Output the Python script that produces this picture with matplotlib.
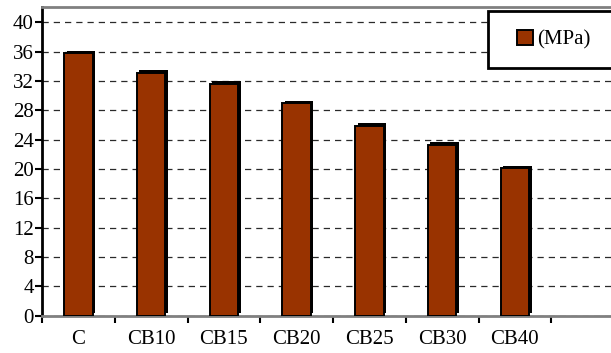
import matplotlib
matplotlib.use("Agg")
import matplotlib.pyplot as plt
import numpy as np
from matplotlib.transforms import offset_copy
from matplotlib.patches import Rectangle

categories = ["C", "CB10", "CB15", "CB20", "CB25", "CB30", "CB40"]
strength = [35.8, 33.1, 31.6, 29.0, 25.9, 23.3, 20.1]
yticks = [0, 4, 8, 12, 16, 20, 24, 28, 32, 36, 40]
series_name = "(MPa)"

plt.rcParams["font.family"] = ["Liberation Serif", "DejaVu Serif"]
FS = 15

W, H = 611, 353
fig = plt.figure(figsize=(W / 100, H / 100), dpi=100)
left, right, top, bottom = 42, 624, 7, 315.7
ax = fig.add_axes([left / W, 1 - bottom / H, (right - left) / W, (bottom - top) / H])

x = np.arange(len(categories))
bar_color = "#993300"
width = 0.39

# shadow bars behind, offset to the upper-right
shadow_tr = offset_copy(ax.transData, fig=fig, x=2.5, y=2.5, units="dots")
ax.bar(x, strength, width=width, color="black", transform=shadow_tr, zorder=3)
ax.bar(x, strength, width=width, color=bar_color, edgecolor="black",
       linewidth=1.4, zorder=4, label=series_name)

ax.set_xlim(-0.5, 7.5)
ax.set_ylim(0, 42.1)
ax.set_yticks(yticks)
ax.set_yticklabels([str(v) for v in yticks], fontsize=FS)
ax.yaxis.grid(True, linestyle=(0, (5, 4)), color="#2a2a2a", linewidth=0.9)
ax.set_axisbelow(True)

ax.set_xticks(np.arange(-0.5, 8.0, 1.0))
ax.set_xticklabels([])
ax.set_xticks(x, minor=True)
ax.set_xticklabels(categories, minor=True, fontsize=FS)
ax.tick_params(axis="x", which="major", length=5, width=1.5, direction="out", color="black")
ax.tick_params(axis="x", which="minor", length=0, pad=10)
ax.tick_params(axis="y", length=5, width=1.5, direction="out", color="black", pad=1)

ax.spines["left"].set_color("black")
ax.spines["left"].set_linewidth(2.0)
for s in ("top", "bottom", "right"):
    ax.spines[s].set_color("#808080")
    ax.spines[s].set_linewidth(2.0)

# legend box
box = Rectangle((488 / W, 1 - 68 / H), (625 - 488) / W, (68 - 11) / H,
                transform=fig.transFigure, facecolor="white", edgecolor="black",
                linewidth=2.0, zorder=9)
fig.patches.append(box)
leg = fig.legend(loc="center left", bbox_to_anchor=(517 / W, 1 - 40 / H),
                 fontsize=FS, frameon=False, borderpad=0, borderaxespad=0,
                 handlelength=0.75, handleheight=0.75, handletextpad=0.2)
leg.set_zorder(10)

fig.savefig("out.png", dpi=100)
